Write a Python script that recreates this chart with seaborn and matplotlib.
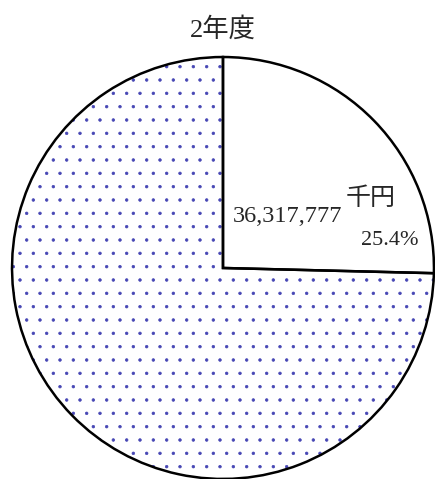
import matplotlib
matplotlib.use("Agg")
import matplotlib.pyplot as plt
import seaborn as sns

# data
title = "2年度"
values = [36317777, 106700000]   # 千円, second slice estimated from 25.4%
pct_labels = ["25.4%", "74.6%"]
unit = "千円"

sns.set_style("white")
plt.rcParams['font.family'] = ['Liberation Serif', 'Noto Sans CJK JP']
plt.rcParams['hatch.linewidth'] = 0.6

DPI = 80
fig = plt.figure(figsize=(435 / DPI, 479 / DPI), dpi=DPI)
ax = fig.add_axes([0, 0, 1, 1])
k = 100 / DPI  # keep font sizes as if at 100 dpi

# hatched fill first (dots), then black outlines on top
fills, _ = ax.pie(values, startangle=90, counterclock=False,
                  colors=["white", "white"],
                  wedgeprops=dict(edgecolor="#4646b4", linewidth=0))
fills[1].set_hatch(".")
ax.pie(values, startangle=90, counterclock=False,
       wedgeprops=dict(fill=False, edgecolor="black", linewidth=1.8 * k))

ax.set_xlim(-1.057, 1.005)
ax.set_ylim(-1.0, 1.27)
ax.set_aspect("equal")
ax.axis("off")

ax.text(0.564, 0.245, f"{values[0]:,}", ha="right", va="center", fontsize=17.5 * k)
ax.text(0.70, 0.33, unit, ha="center", va="center", fontsize=18 * k)
ax.text(0.79, 0.13, pct_labels[0], ha="center", va="center", fontsize=16 * k)

fig.text(223 / 435, 1 - 29 / 479, title, ha="center", va="center", fontsize=19 * k)

fig.savefig("out.png", dpi=DPI)
